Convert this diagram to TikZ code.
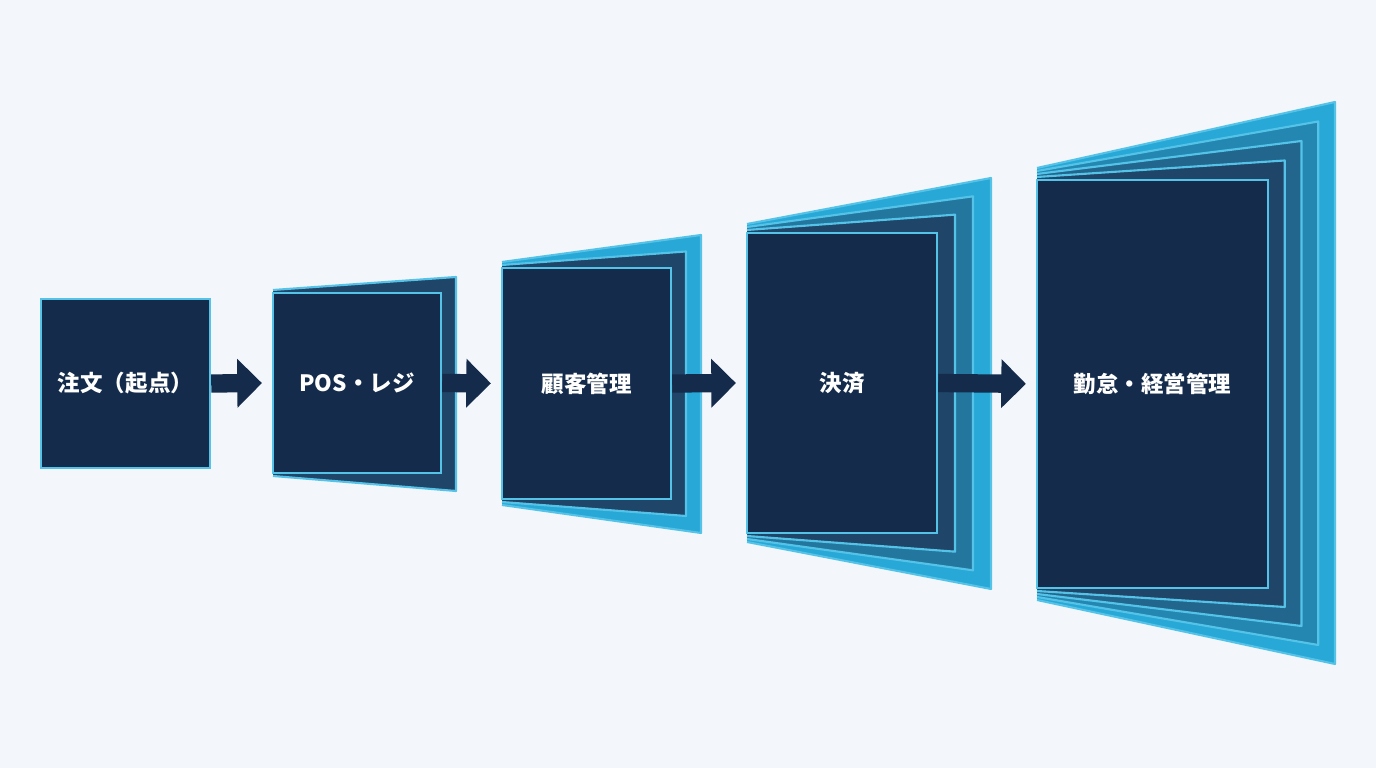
\documentclass[tikz,border=0pt]{standalone}
\usepackage{fontspec}
\setmainfont{Noto Sans CJK JP}
\usetikzlibrary{arrows.meta}
\definecolor{bgpaper}{HTML}{F3F6FB}
\definecolor{navy}{HTML}{142B4B}
\definecolor{deeppage}{HTML}{1F4569}
\definecolor{cyanpage}{HTML}{27A8D6}
\definecolor{edgeblue}{HTML}{55C3E8}
\tikzset{
  front/.style={draw=edgeblue, line width=0.7pt, fill=navy, inner sep=0pt},
  caption/.style={text=white, font=\bfseries\fontsize{6.4pt}{7pt}\selectfont},
  page/.style={draw=edgeblue, line width=0.6pt, line join=round},
  flow/.style={navy, line width=5.2pt, -{Triangle[length=7pt,width=13.5pt]}, shorten >=2.8pt}
}
% \stage{name}{x1}{y1}{x2}{y2}{pages}{outer right}{outer top}{outer bottom}
\newcommand{\stage}[9]{%
  \ifnum#6>0
  \foreach \i in {#6,...,1}{%
    \pgfmathsetmacro{\t}{\i/#6}%
    \pgfmathsetmacro{\pct}{round(100*(\i-1)/max(#6-1,1))}%
    \pgfmathsetmacro{\rx}{#4+\t*(#7-#4)}%
    \pgfmathsetmacro{\ty}{#3+\t*(#8-#3)}%
    \pgfmathsetmacro{\by}{#5+\t*(#9-#5)}%
    \fill[cyanpage!\pct!deeppage] (#2,#3-3*\i) -- (\rx,\ty) -- (\rx,\by) -- (#2,#5+3*\i) -- cycle;
    \draw[page] (#2,#3-3*\i) -- (\rx,\ty) -- (\rx,\by) -- (#2,#5+3*\i);
  }
  \fi
  \node[front, minimum width={(#4-#2)*0.01cm}, minimum height={(#5-#3)*0.01cm}]
    (#1) at ({(#2+#4)/2},{(#3+#5)/2}) {};
}
\begin{document}
\begin{tikzpicture}[x=0.01cm, y=-0.01cm]
  \fill[bgpaper] (0,0) rectangle (1376,768);
  \useasboundingbox (0,0) rectangle (1376,768);

  \stage{order}{41}{299}{210}{468}{0}{210}{299}{468}
  \stage{pos}{273}{293}{441}{473}{1}{456}{277}{491}
  \stage{crm}{502}{268}{671}{499}{2}{701}{235}{533}
  \stage{pay}{747}{233}{937}{533}{3}{991}{178}{589}
  \stage{hr}{1037}{180}{1268}{588}{4}{1335}{102}{664}

  \node[caption] (order-t) at (order) {注文（起点）};
  \node[caption] (pos-t) at (pos) {POS・レジ};
  \node[caption] (crm-t) at (crm) {顧客管理};
  \node[caption] (pay-t) at (pay) {決済};
  \node[caption] (hr-t) at (hr) {勤怠・経営管理};

  \draw[flow] (order.east) -- (pos.west);
  \draw[flow] (pos.east) -- (crm.west);
  \draw[flow] (crm.east) -- (pay.west);
  \draw[flow] (pay.east) -- (hr.west);
\end{tikzpicture}
\end{document}
